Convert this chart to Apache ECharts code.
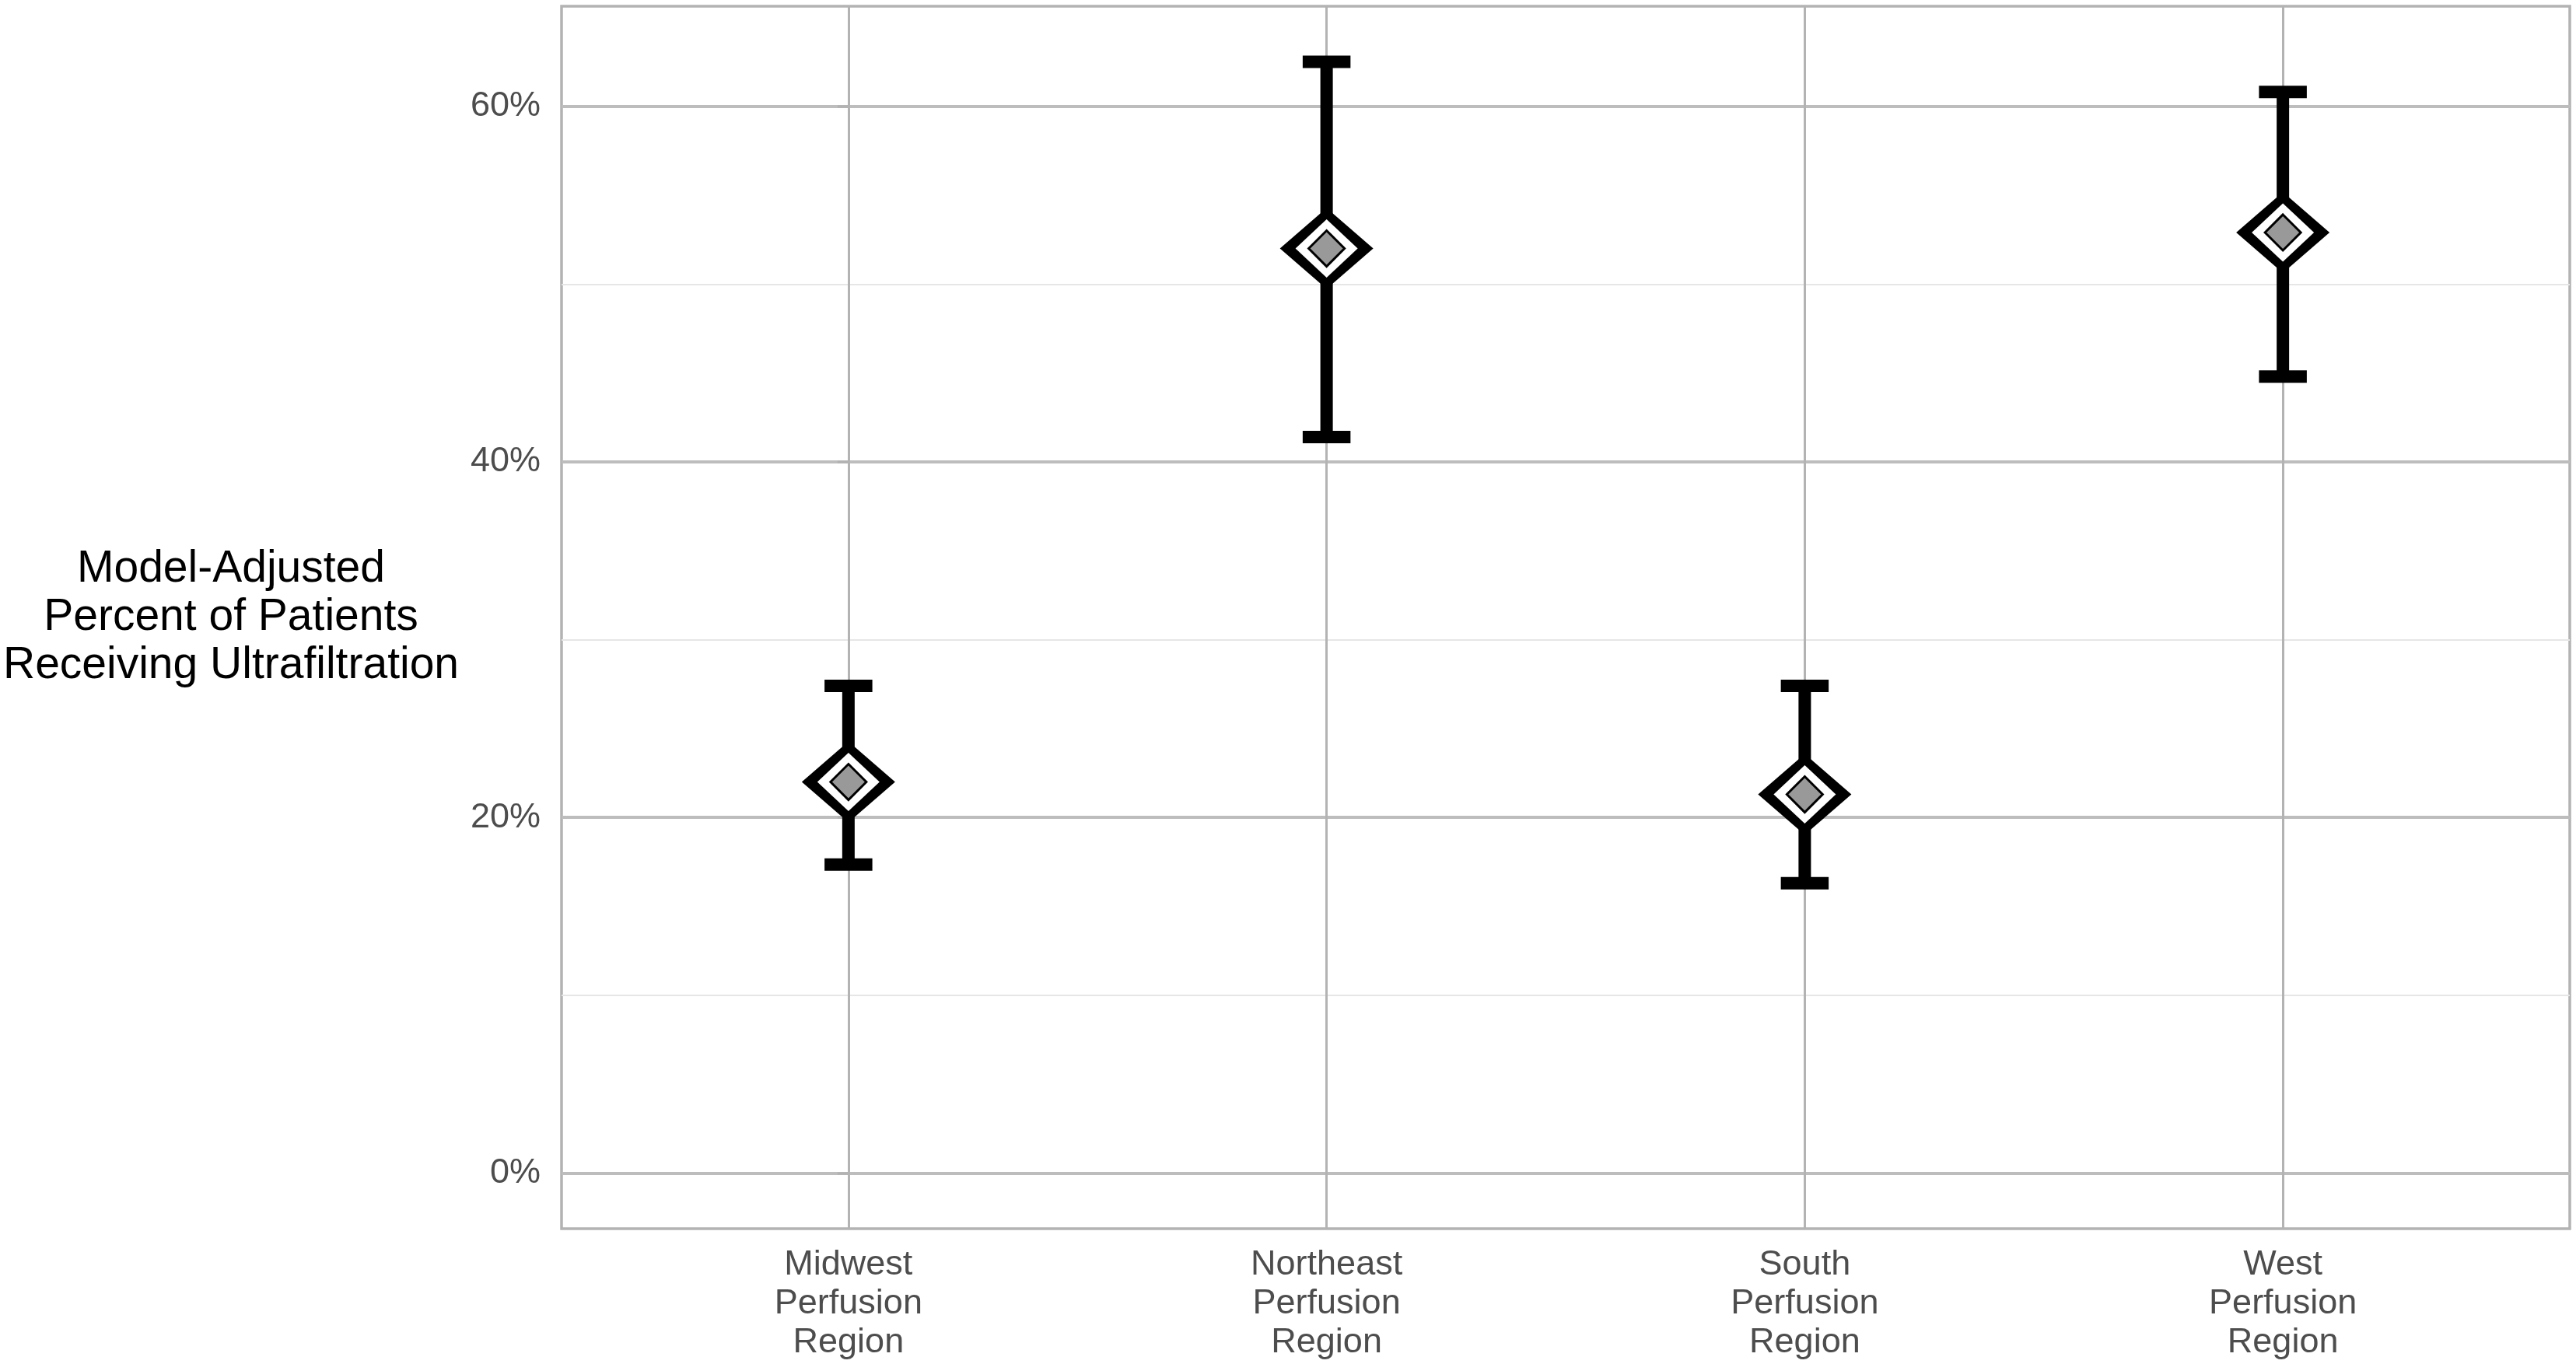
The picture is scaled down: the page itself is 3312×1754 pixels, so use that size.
<!DOCTYPE html>
<html>
<head>
<meta charset="utf-8">
<title>Ultrafiltration by perfusion region</title>
<script src="https://cdn.jsdelivr.net/npm/echarts@6/dist/echarts.min.js"></script>
<style>
  html, body { margin: 0; padding: 0; background: #fff; }
  #chart { width: 3312px; height: 1754px; }
</style>
</head>
<body>
<div id="chart"></div>
<script>
// Regions on the x axis (positions 0..3)
const regions = [
  "Midwest\nPerfusion\nRegion",
  "Northeast\nPerfusion\nRegion",
  "South\nPerfusion\nRegion",
  "West\nPerfusion\nRegion"
];

// Model-adjusted percent and its confidence interval
const estimates = [22.0, 52.0, 21.3, 52.9];
const lowerCI = [17.35, 41.4, 16.3, 44.8];
const upperCI = [27.4, 62.5, 27.4, 60.8];

// Axis ticks
const majorTicks = [0, 20, 40, 60];
const minorTicks = [10, 30, 50];
const regionTicks = [0, 1, 2, 3];

const FONT = "'Liberation Sans', Arial, Helvetica, sans-serif";
const GRID_GREY = "#b3b3b3";

const chart = echarts.init(document.getElementById("chart"), null, { renderer: "canvas" });

const points = estimates.map((v, i) => [i, v]);
const bars = estimates.map((v, i) => [i, lowerCI[i], upperCI[i]]);

// error bar: vertical line plus two caps 0.1 units wide
const renderErrorBar = (params, api) => {
  const x = api.value(0);
  const lo = api.coord([x, api.value(1)]);
  const hi = api.coord([x, api.value(2)]);
  const left = api.coord([x - 0.05, 0])[0];
  const right = api.coord([x + 0.05, 0])[0];
  const style = { stroke: "#000", lineWidth: 16, lineCap: "butt" };
  return {
    type: "group",
    children: [
      { type: "line", shape: { x1: lo[0], y1: lo[1], x2: hi[0], y2: hi[1] }, style },
      { type: "line", shape: { x1: left, y1: hi[1], x2: right, y2: hi[1] }, style },
      { type: "line", shape: { x1: left, y1: lo[1], x2: right, y2: lo[1] }, style }
    ]
  };
};

const option = {
  backgroundColor: "#fff",
  animation: false,
  grid: {
    left: 722,
    top: 8,
    width: 2582,
    height: 1572,
    show: true,
    borderColor: GRID_GREY,
    borderWidth: 3.5,
    backgroundColor: "#fff"
  },
  xAxis: {
    type: "value",
    min: -0.6,
    max: 3.6,
    axisLine: { show: false },
    axisTick: {
      show: true,
      customValues: regionTicks,
      length: 14,
      lineStyle: { color: GRID_GREY, width: 3 }
    },
    splitLine: { show: true, lineStyle: { color: GRID_GREY, width: 3 } },
    axisLabel: {
      customValues: regionTicks,
      formatter: (v) => regions[Math.round(v)] || "",
      margin: 22,
      fontFamily: FONT,
      fontSize: 45,
      lineHeight: 50,
      color: "#4d4d4d",
      align: "center"
    }
  },
  yAxis: [
    {
      type: "value",
      min: -3.125,
      max: 65.625,
      axisLine: { show: false },
      axisTick: {
        show: true,
        customValues: majorTicks,
        length: 14,
        lineStyle: { color: GRID_GREY, width: 3.5 }
      },
      splitLine: { show: true, lineStyle: { color: "#bdbdbd", width: 4 } },
      axisLabel: {
        customValues: majorTicks,
        formatter: (v) => v + "%",
        margin: 27,
        padding: [8, 0, 0, 0],
        fontFamily: FONT,
        fontSize: 45,
        color: "#4d4d4d"
      },
      name: "Model-Adjusted\nPercent of Patients\nReceiving Ultrafiltration",
      nameLocation: "middle",
      nameRotate: 0,
      nameGap: 425,
      nameTextStyle: {
        fontFamily: FONT,
        fontSize: 57,
        lineHeight: 62,
        color: "#000",
        align: "center",
        verticalAlign: "middle",
        padding: [14, 0, 0, 0]
      }
    },
    {
      // minor grid lines only
      type: "value",
      min: -3.125,
      max: 65.625,
      position: "left",
      axisLine: { show: false },
      axisTick: { show: false, customValues: minorTicks },
      axisLabel: { show: false },
      splitLine: { show: true, lineStyle: { color: "#e6e6e6", width: 2 } }
    }
  ],
  series: [
    {
      type: "custom",
      renderItem: renderErrorBar,
      data: bars,
      encode: { x: 0, y: [1, 2] },
      z: 3,
      silent: true
    },
    {
      type: "scatter",
      data: points,
      symbol: "diamond",
      symbolSize: [120, 104],
      itemStyle: { color: "#000", opacity: 1 },
      z: 4,
      silent: true
    },
    {
      type: "scatter",
      data: points,
      symbol: "diamond",
      symbolSize: [80, 75],
      itemStyle: { color: "#fff", opacity: 1 },
      z: 5,
      silent: true
    },
    {
      type: "scatter",
      data: points,
      symbol: "diamond",
      symbolSize: [46, 46],
      itemStyle: { color: "#999999", borderColor: "#000", borderWidth: 3, opacity: 1 },
      z: 6,
      silent: true
    }
  ]
};

chart.setOption(option);
</script>
</body>
</html>
